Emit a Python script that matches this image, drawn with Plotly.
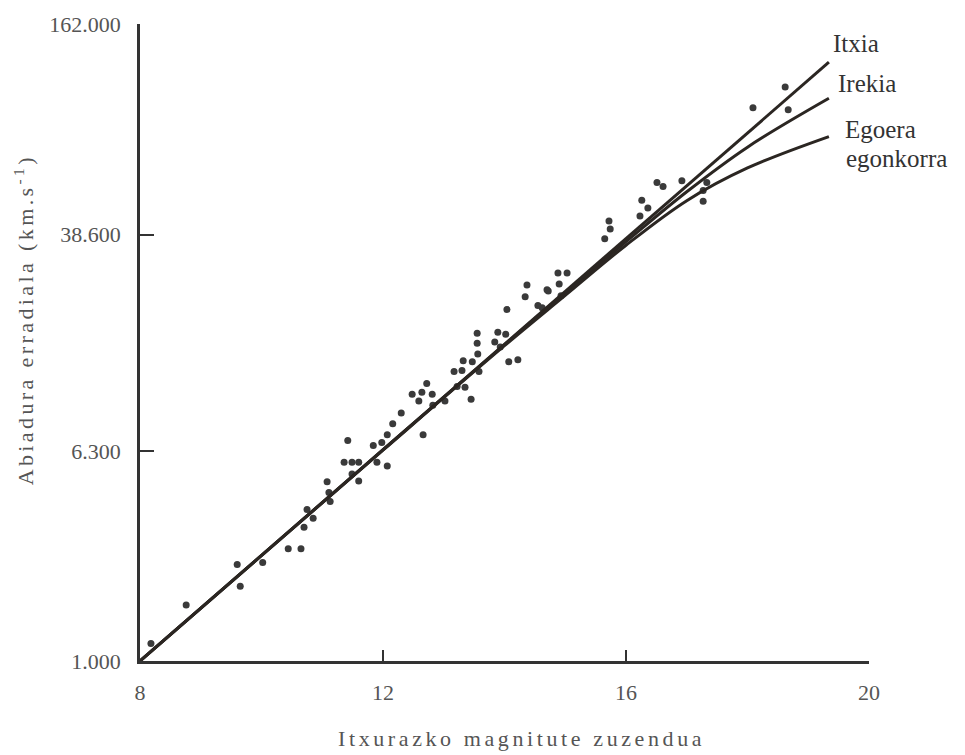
import plotly.graph_objects as go

# Corrected apparent magnitude of each galaxy
magnitude = [
    8.18, 8.76, 9.60, 9.65, 10.02, 10.44, 10.65, 10.75, 10.70, 10.85,
    11.08, 11.11, 11.13, 11.42, 11.36, 11.49, 11.60, 11.49, 11.60, 11.84,
    11.90, 12.07, 11.98, 12.07, 12.16, 12.30, 12.66, 12.48, 12.59, 12.64,
    12.72, 12.81, 12.82, 13.02, 13.17, 13.32, 13.30, 13.47, 13.45, 13.22,
    13.35, 13.55, 13.55, 13.56, 13.58, 13.84, 13.89, 14.02, 14.04, 13.93,
    14.07, 14.22, 14.37, 14.34, 14.70, 14.62, 14.55, 14.72, 14.90, 14.88,
    15.03, 14.93, 15.65, 15.72, 15.74, 16.23, 16.26, 16.36, 16.51, 16.61,
    16.92, 17.27, 17.33, 17.27, 18.09, 18.62, 18.67,
]

# Radial velocity, as a position on the velocity axis
# (0 = 1.000 ... 3 = 162.000 km/s)
velocity_level = [
    0.083, 0.264, 0.454, 0.352, 0.464, 0.529, 0.529, 0.714, 0.630, 0.672,
    0.844, 0.793, 0.751, 1.038, 0.936, 0.936, 0.936, 0.881, 0.848, 1.015,
    0.936, 0.918, 1.029, 1.066, 1.117, 1.168, 1.066, 1.256, 1.224, 1.266,
    1.307, 1.256, 1.205, 1.224, 1.363, 1.414, 1.368, 1.409, 1.233, 1.293,
    1.289, 1.544, 1.497, 1.446, 1.363, 1.502, 1.548, 1.539, 1.655, 1.479,
    1.409, 1.419, 1.771, 1.715, 1.748, 1.664, 1.674, 1.743, 1.776, 1.827,
    1.827, 1.720, 1.989, 2.072, 2.035, 2.096, 2.170, 2.133, 2.253, 2.235,
    2.262, 2.165, 2.253, 2.216, 2.605, 2.703, 2.596,
]

velocity_ticks = [0, 0.988, 2.008, 3]
velocity_labels = ["1.000", "6.300", "38.600", "162.000"]
magnitude_ticks = [8, 12, 16, 20]
magnitude_labels = ["8", "12", "16", "20"]

# Model curves for the three universe types
itxia_mag = [8, 19.34]
itxia_vel = [0, 2.82]
curve_mag = [8, 12, 14, 15, 16, 17, 18, 19.34]
irekia_vel = [0, 0.995, 1.490, 1.735, 1.975, 2.210, 2.420, 2.650]
egoera_vel = [0, 0.993, 1.485, 1.722, 1.958, 2.168, 2.322, 2.470]

SERIF = "Liberation Serif"
INK = "#2b2622"
GREY = "#555555"

W, H = 965, 755
L, R, T, B = 140, 96, 14, 94


def px_to_paper(px, py):
    return (px - L) / (W - L - R), ((H - B) - py) / (H - T - B)


fig = go.Figure()

fig.add_trace(go.Scatter(
    x=magnitude, y=velocity_level, mode="markers",
    marker=dict(size=7, color="#3a3a3a"),
    cliponaxis=False, showlegend=False,
))

fig.add_trace(go.Scatter(
    x=itxia_mag, y=itxia_vel, mode="lines",
    line=dict(color=INK, width=3), cliponaxis=False, showlegend=False,
))
fig.add_trace(go.Scatter(
    x=curve_mag, y=irekia_vel, mode="lines",
    line=dict(color=INK, width=3, shape="spline"), cliponaxis=False, showlegend=False,
))
fig.add_trace(go.Scatter(
    x=curve_mag, y=egoera_vel, mode="lines",
    line=dict(color=INK, width=3, shape="spline"), cliponaxis=False, showlegend=False,
))

# Curve labels at the line ends (pixel positions, anchor)
curve_labels = [
    ("Itxia", 832, 34, "middle"),
    ("Irekia", 837, 74, "middle"),
    ("Egoera", 844, 136, "bottom"),
    ("egonkorra", 845, 136, "top"),
]
for text, px, py, anchor in curve_labels:
    ax, ay = px_to_paper(px, py)
    fig.add_annotation(
        x=ax, y=ay, xref="paper", yref="paper", text=text, showarrow=False,
        xanchor="left", yanchor=anchor, borderpad=0,
        font=dict(family=SERIF, size=25, color="#333333"),
    )

# Axis titles, letter-spaced
tx, ty = px_to_paper(521, 740)
fig.add_annotation(
    x=tx, y=ty, xref="paper", yref="paper",
    text='<span style="letter-spacing:3.6px">Itxurazko magnitute zuzendua</span>',
    showarrow=False, xanchor="center", yanchor="middle",
    font=dict(family=SERIF, size=22, color=GREY),
)
tx, ty = px_to_paper(24, 315)
fig.add_annotation(
    x=tx, y=ty, xref="paper", yref="paper",
    text='<span style="letter-spacing:3.4px">Abiadura erradiala (km.s<sup>-1</sup>)</span>',
    showarrow=False, xanchor="center", yanchor="middle", textangle=-90,
    font=dict(family=SERIF, size=22, color=GREY),
)

fig.update_xaxes(
    range=[8, 20], tickvals=magnitude_ticks, ticktext=magnitude_labels,
    showline=True, linecolor="#333333", linewidth=2.5,
    ticks="inside", ticklen=11, tickwidth=2, tickcolor="#333333",
    showgrid=False, zeroline=False, ticklabelstandoff=10,
    tickfont=dict(family=SERIF, size=22, color=GREY),
)
fig.update_yaxes(
    range=[0, 3], tickvals=velocity_ticks, ticktext=velocity_labels,
    showline=True, linecolor="#333333", linewidth=2.5,
    ticks="inside", ticklen=14, tickwidth=2, tickcolor="#333333",
    showgrid=False, zeroline=False, ticklabelstandoff=12,
    tickfont=dict(family=SERIF, size=22, color=GREY),
)

fig.update_layout(
    width=W, height=H,
    margin=dict(l=L, r=R, t=T, b=B),
    paper_bgcolor="white", plot_bgcolor="white",
    showlegend=False,
)

fig.write_html("out.html")
